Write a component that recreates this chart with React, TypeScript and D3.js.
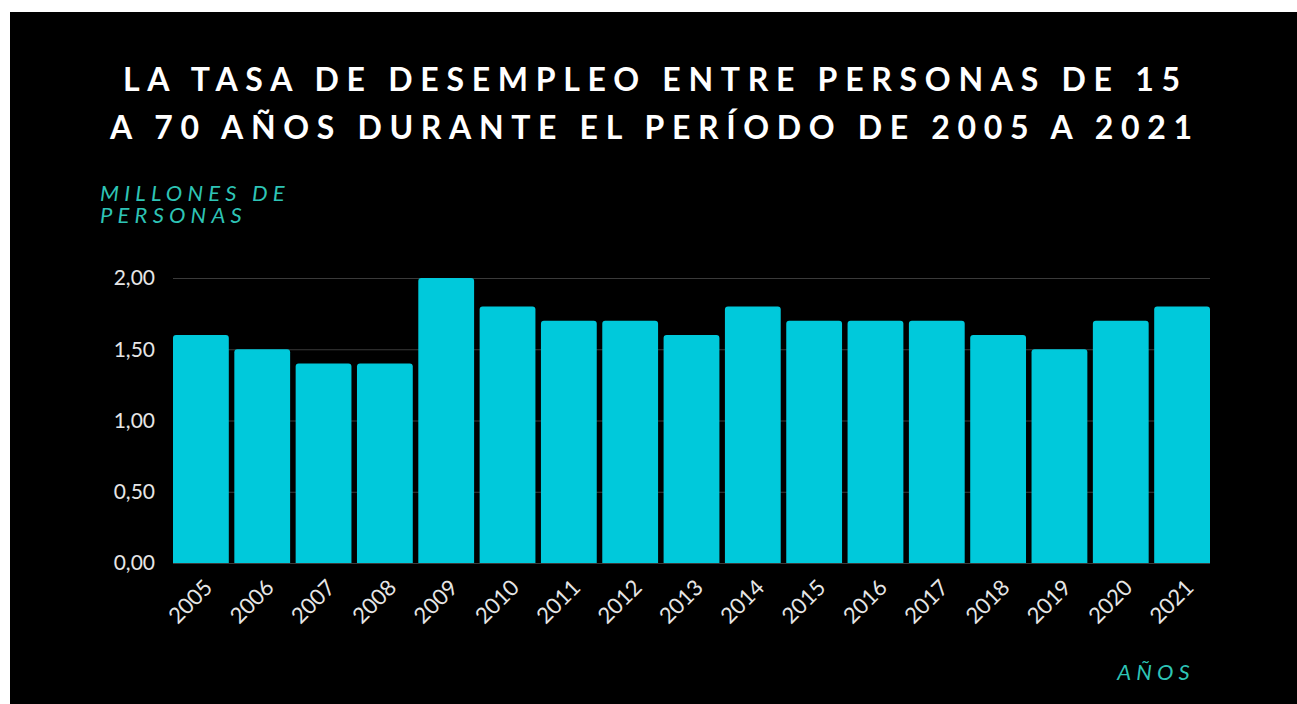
import React, { useEffect, useRef } from "react";
import * as d3 from "d3";

const years = ["2005", "2006", "2007", "2008", "2009", "2010", "2011", "2012", "2013", "2014", "2015", "2016", "2017", "2018", "2019", "2020", "2021"];
const desempleo = [1.6, 1.5, 1.4, 1.4, 2.0, 1.8, 1.7, 1.7, 1.6, 1.8, 1.7, 1.7, 1.7, 1.6, 1.5, 1.7, 1.8];
const yTicks = [0, 0.5, 1, 1.5, 2];
const titleLines = [
  "LA TASA DE DESEMPLEO ENTRE PERSONAS DE 15",
  "A 70 AÑOS DURANTE EL PERÍODO DE 2005 A 2021",
];
const yTitleLines = ["MILLONES DE", "PERSONAS"];
const xTitle = "AÑOS";

const width = 1297;
const height = 704;
const margin = { top: 278, right: 87, bottom: 141, left: 173 };
const barColor = "#00c9db";
const accent = "#2ec4b6";

const App = () => {
  const svgRef = useRef(null);

  useEffect(() => {
    const svg = d3.select(svgRef.current);
    svg.selectAll("*").remove(); // clear

    svg.attr("width", width).attr("height", height);

    svg.append("rect").attr("width", width).attr("height", height).attr("fill", "#fff");
    svg.append("rect").attr("x", 10).attr("y", 12).attr("width", width - 10).attr("height", height - 12).attr("fill", "#000");

    const x = d3
      .scaleBand()
      .domain(years)
      .range([margin.left, width - margin.right])
      .paddingInner(0.09)
      .paddingOuter(0);

    const y = d3
      .scaleLinear()
      .domain([0, 2])
      .range([height - margin.bottom, margin.top]);

    // title
    const titleWidths = [[123, 1180], [110, 1192]];
    svg
      .append("g")
      .selectAll("text")
      .data(titleLines)
      .enter()
      .append("text")
      .attr("x", (d, i) => titleWidths[i][0])
      .attr("y", (d, i) => 91 + i * 48)
      .attr("textLength", (d, i) => titleWidths[i][1] - titleWidths[i][0])
      .attr("lengthAdjust", "spacing")
      .attr("fill", "#fff")
      .style("font-family", "Lato, sans-serif")
      .style("font-weight", 700)
      .style("font-size", "32px")
      .text((d) => d);

    // y title
    svg
      .append("g")
      .selectAll("text")
      .data(yTitleLines)
      .enter()
      .append("text")
      .attr("x", 100)
      .attr("y", (d, i) => 201 + i * 22)
      .attr("fill", accent)
      .style("font-family", "Lato, sans-serif")
      .style("font-style", "italic")
      .style("font-size", "22px")
      .style("letter-spacing", "5.2px")
      .text((d) => d);

    // gridlines
    svg
      .append("g")
      .selectAll("line")
      .data(yTicks)
      .enter()
      .append("line")
      .attr("x1", margin.left)
      .attr("x2", width - margin.right)
      .attr("y1", (d) => y(d) + 0.5)
      .attr("y2", (d) => y(d) + 0.5)
      .attr("stroke", "#3a3a3a")
      .attr("stroke-width", 1);

    // y tick labels
    svg
      .append("g")
      .selectAll("text")
      .data(yTicks)
      .enter()
      .append("text")
      .attr("x", 155)
      .attr("y", (d) => y(d))
      .attr("dy", "0.35em")
      .attr("text-anchor", "end")
      .attr("fill", "#e6e6e6")
      .style("font-family", "Lato, sans-serif")
      .style("font-size", "21px")
      .text((d) => d3.format(".2f")(d).replace(".", ","));

    // bars
    const r = 3;
    svg
      .append("g")
      .selectAll("path")
      .data(desempleo)
      .enter()
      .append("path")
      .attr("d", (d, i) => {
        const x0 = x(years[i]);
        const x1 = x0 + x.bandwidth();
        const y0 = y(0);
        const y1 = y(d);
        return `M${x0},${y0}V${y1 + r}Q${x0},${y1} ${x0 + r},${y1}H${x1 - r}Q${x1},${y1} ${x1},${y1 + r}V${y0}Z`;
      })
      .attr("fill", barColor);

    // x tick labels
    svg
      .append("g")
      .selectAll("text")
      .data(years)
      .enter()
      .append("text")
      .attr("transform", (d) => `translate(${x(d) + x.bandwidth() / 2 + 13},${y(0) + 26}) rotate(-45)`)
      .attr("text-anchor", "end")
      .attr("fill", "#e6e6e6")
      .style("font-family", "Lato, sans-serif")
      .style("font-size", "22px")
      .text((d) => d);

    // x title
    svg
      .append("text")
      .attr("x", 1195)
      .attr("y", 680)
      .attr("text-anchor", "end")
      .attr("fill", accent)
      .style("font-family", "Lato, sans-serif")
      .style("font-style", "italic")
      .style("font-size", "22px")
      .style("letter-spacing", "5.2px")
      .text(xTitle);
  }, []);

  return <svg ref={svgRef} style={{ position: "absolute", left: 0, top: 0 }}></svg>;
};

export default App;
